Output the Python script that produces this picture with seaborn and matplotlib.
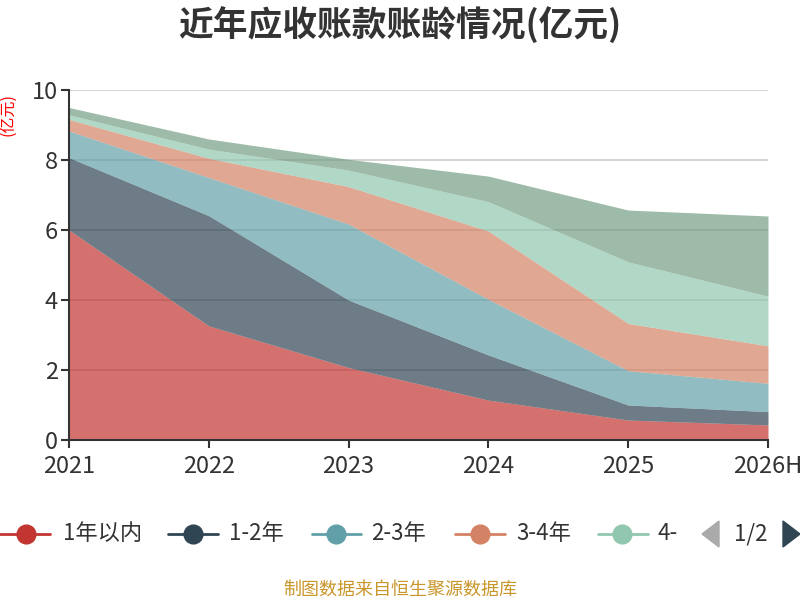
import numpy as np
import pandas as pd
import seaborn as sns
import matplotlib.pyplot as plt
from matplotlib.lines import Line2D
from matplotlib.patches import Polygon

# values in 亿元
years = ['2021', '2022', '2023', '2024', '2025', '2026H']
series_names = ['1年以内', '1-2年', '2-3年', '3-4年', '4-5年', '5年以上']
within_1y = [6.00, 3.26, 2.07, 1.14, 0.57, 0.43]
y1_2 = [2.07, 3.15, 1.93, 1.29, 0.43, 0.38]
y2_3 = [0.76, 1.09, 2.17, 1.59, 0.98, 0.81]
y3_4 = [0.33, 0.55, 1.07, 1.95, 1.35, 1.07]
y4_5 = [0.13, 0.26, 0.47, 0.84, 1.76, 1.42]
over_5y = [0.21, 0.29, 0.31, 0.73, 1.48, 2.29]

colors = ['#c23531', '#2f4554', '#61a0a8', '#d48265', '#91c7ae', '#749f83']

df = pd.DataFrame({'year': years, '1年以内': within_1y, '1-2年': y1_2, '2-3年': y2_3,
                   '3-4年': y3_4, '4-5年': y4_5, '5年以上': over_5y})

sns.set_theme(style='white')
plt.rcParams['font.family'] = ['Noto Sans CJK SC', 'DejaVu Sans']

fig = plt.figure(figsize=(8, 6), dpi=100)
ax = fig.add_axes([69 / 800, 160 / 600, 699 / 800, 350 / 600])

x = np.arange(len(years))
ax.stackplot(x, *[df[n] for n in series_names], colors=colors, alpha=0.7,
             linewidth=0, zorder=2)

ax.set_xlim(0, len(years) - 1)
ax.set_ylim(0, 10)
ax.set_xticks(x)
ax.set_xticklabels(years)
ax.set_yticks([0, 2, 4, 6, 8, 10])
ax.grid(axis='y', color='#cccccc', linewidth=1.2, zorder=0)
ax.grid(axis='x', visible=False)
ax.set_axisbelow(True)
ax.tick_params(axis='both', labelsize=17, colors='#333333', length=6, width=1.5,
               direction='out', bottom=True, left=True, pad=2)
ax.tick_params(axis='x', pad=5)
for side in ['top', 'right']:
    ax.spines[side].set_visible(False)
for side in ['left', 'bottom']:
    ax.spines[side].set_color('#333333')
    ax.spines[side].set_linewidth(1.5)

fig.text(0.5, 1 - 25 / 600, '近年应收账款账龄情况(亿元)', ha='center', va='center',
         fontsize=25, fontweight='bold', color='#333333')
fig.text(8 / 800, 1 - 115 / 600, '(亿元)', ha='center', va='center', rotation=90,
         fontsize=11.5, color='red')

# legend (first page of a paged legend)
ly = 1 - 534 / 600
items = [(0, 50, 26, 63), (168, 218, 193, 229), (312, 361, 336, 371),
         (455, 505, 480, 516), (598, 648, 622, 658)]
labels = ['1年以内', '1-2年', '2-3年', '3-4年', '4-']
for (x0, x1, cx, tx), lab, c in zip(items, labels, colors):
    fig.add_artist(Line2D([x0 / 800, x1 / 800], [ly, ly], color=c, linewidth=2,
                          transform=fig.transFigure))
    fig.add_artist(Line2D([cx / 800], [ly], marker='o', markersize=13.5, color=c,
                          markeredgecolor=c, transform=fig.transFigure))
    fig.text(tx / 800, ly, lab, ha='left', va='center', fontsize=16, color='#333333')

fig.add_artist(Polygon([[719 / 800, 1 - 521 / 600], [719 / 800, 1 - 547 / 600],
                        [702 / 800, 1 - 534 / 600]], closed=True, color='#aaaaaa',
                       transform=fig.transFigure))
fig.text(751 / 800, ly, '1/2', ha='center', va='center', fontsize=16, color='#333333')
fig.add_artist(Polygon([[783 / 800, 1 - 521 / 600], [783 / 800, 1 - 547 / 600],
                        [800 / 800, 1 - 534 / 600]], closed=True, color='#2f4554',
                       transform=fig.transFigure))

fig.text(0.5, 1 - 590 / 600, '制图数据来自恒生聚源数据库', ha='center', va='center',
         fontsize=13, color='#c9962a')

fig.savefig('out.png', dpi=100)
